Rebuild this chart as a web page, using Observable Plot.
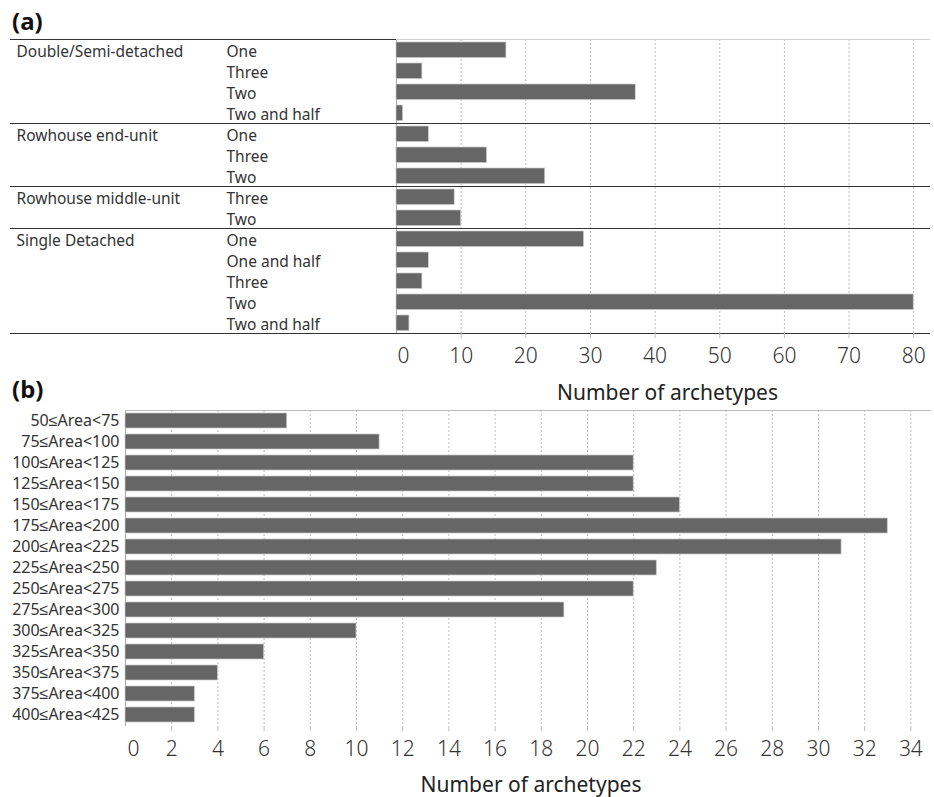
<!DOCTYPE html>
<html>
<head>
<meta charset="utf-8">
<script src="https://cdn.jsdelivr.net/npm/d3@7"></script>
<script src="https://cdn.jsdelivr.net/npm/@observablehq/plot@0.6"></script>
<style>
  html, body { margin: 0; padding: 0; background: #fff; }
  body { width: 934px; height: 797px; position: relative; overflow: hidden; font-family: "Noto Sans", sans-serif; }
  .panel-title { position: absolute; left: 12px; font: bold 24px "Noto Sans", sans-serif; color: #111; line-height: 28px; z-index: 5; }
  #a { position: absolute; left: 0; top: 30px; z-index: 1; }
  #b { position: absolute; left: 0; top: 398px; z-index: 2; }
  #a svg, #b svg { background: transparent !important; }
</style>
</head>
<body>
<div class="panel-title" style="top:7px">(a)</div>
<div class="panel-title" style="top:375px">(b)</div>
<div id="a"></div>
<div id="b"></div>
<script>
// ---- Panel (a) data ----
const buildingTypes = ["Double/Semi-detached", "Rowhouse end-unit", "Rowhouse middle-unit", "Single Detached"];
const storeyLabels = [
  ["One", "Three", "Two", "Two and half"],
  ["One", "Three", "Two"],
  ["Three", "Two"],
  ["One", "One and half", "Three", "Two", "Two and half"]
];
const storeyCounts = [
  [17, 4, 37, 1],
  [5, 14, 23],
  [9, 10],
  [29, 5, 4, 80, 2]
];
const ticksA = [0, 10, 20, 30, 40, 50, 60, 70, 80];

// ---- Panel (b) data ----
const areaLabels = ["50≤Area<75", "75≤Area<100", "100≤Area<125", "125≤Area<150", "150≤Area<175",
  "175≤Area<200", "200≤Area<225", "225≤Area<250", "250≤Area<275", "275≤Area<300",
  "300≤Area<325", "325≤Area<350", "350≤Area<375", "375≤Area<400", "400≤Area<425"];
const areaCounts = [7, 11, 22, 22, 24, 33, 31, 23, 22, 19, 10, 6, 4, 3, 3];
const ticksB = d3.range(0, 35, 2);

const axisLabel = "Number of archetypes";
const textColor = "#333";
const barFill = "#666666";

// build rows for (a)
const rowsA = [];
const groupStarts = [];
buildingTypes.forEach((t, g) => {
  groupStarts.push(rowsA.length);
  storeyLabels[g].forEach((s, k) => {
    rowsA.push({type: t, storey: s, count: storeyCounts[g][k], i: rowsA.length, first: k === 0});
  });
});
const nRows = rowsA.length;

const chartA = Plot.plot({
  width: 934, height: 375,
  marginTop: 9, marginBottom: 72, marginLeft: 396, marginRight: 4,
  style: {fontFamily: "'Noto Sans', sans-serif", color: textColor, background: "transparent"},
  x: {domain: [0, 82.6]},
  y: {domain: [0, nRows], reverse: true, axis: null},
  marks: [
    Plot.ruleX(ticksA.slice(1), {stroke: "#bdbdbd", strokeDasharray: "2,2"}),
    Plot.ruleX([0], {stroke: "#aaa"}),
    Plot.ruleY([0], {stroke: "#d0d0d0"}),
    Plot.ruleY([0], {x1: 0, x2: 0, insetLeft: -386, stroke: "#333"}),
    Plot.rectX(rowsA, {x: "count", y1: "i", y2: d => d.i + 1, insetTop: 3, insetBottom: 2.5,
      fill: barFill, stroke: "#c8c8c8", strokeWidth: 0.7}),
    Plot.ruleY(groupStarts.slice(1).concat([nRows]), {insetLeft: -386, stroke: "#333"}),
    Plot.text(rowsA.filter(d => d.first), {y: d => d.i + 0.5, text: "type", frameAnchor: "left",
      dx: -380, dy: 2, textAnchor: "start", fontSize: 15.5, fill: textColor}),
    Plot.text(rowsA, {y: d => d.i + 0.5, text: "storey", frameAnchor: "left",
      dx: -170, dy: 2, textAnchor: "start", fontSize: 15.5, fill: textColor}),
    Plot.axisX(ticksA.slice(1), {tickSize: 5, tickPadding: 10, fontSize: 21, fontWeight: 300, stroke: "#bbb", fill: textColor, label: null}),
    Plot.axisX([0], {tickSize: 0, tickPadding: 15, dx: 7, fontSize: 21, fontWeight: 300, fill: textColor, label: null}),
    Plot.text([axisLabel], {frameAnchor: "bottom", dx: 4, dy: 66, fontSize: 21, fill: "#222"})
  ]
});
document.getElementById("a").append(chartA);

const rowsB = areaLabels.map((a, i) => ({area: a, count: areaCounts[i]}));
const chartB = Plot.plot({
  width: 934, height: 399,
  marginTop: 12, marginBottom: 71, marginLeft: 125, marginRight: 4,
  style: {fontFamily: "'Noto Sans', sans-serif", color: textColor, background: "transparent"},
  x: {domain: [0, 34.85]},
  y: {domain: areaLabels, paddingInner: 0.27, paddingOuter: 0.135},
  marks: [
    Plot.ruleX(ticksB.slice(1), {stroke: "#bdbdbd", strokeDasharray: "2,2"}),
    Plot.ruleX([0], {stroke: "#aaa"}),
    Plot.frame({anchor: "top", stroke: "#bbb"}),
    Plot.barX(rowsB, {x: "count", y: "area", fill: barFill, stroke: "#c8c8c8", strokeWidth: 0.7}),
    Plot.ruleY([0], {frameAnchor: "bottom"}),
    Plot.axisY({tickSize: 0, tickPadding: 6, fontSize: 16, fill: textColor, label: null}),
    Plot.axisX(ticksB.slice(1), {tickSize: 5, tickPadding: 10, fontSize: 21, fontWeight: 300, stroke: "#bbb", fill: textColor, label: null}),
    Plot.axisX([0], {tickSize: 0, tickPadding: 15, dx: 8, fontSize: 21, fontWeight: 300, fill: textColor, label: null}),
    Plot.text([axisLabel], {frameAnchor: "bottom", dx: 3, dy: 65, fontSize: 21, fill: "#222"})
  ]
});
document.getElementById("b").append(chartB);
</script>
</body>
</html>
